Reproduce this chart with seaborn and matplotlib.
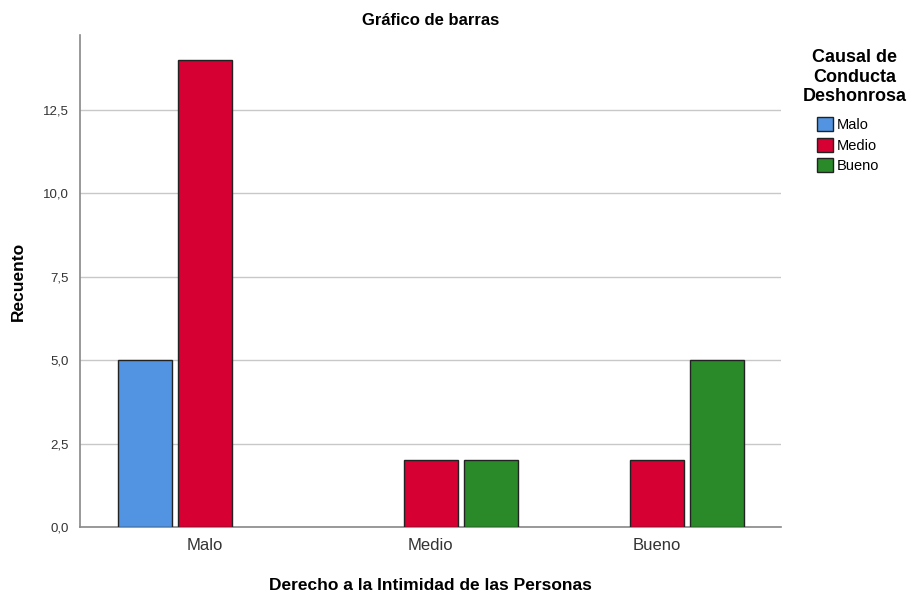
import pandas as pd
import matplotlib.pyplot as plt
import seaborn as sns
from matplotlib.ticker import FuncFormatter
from matplotlib.patches import Patch

# ================== DATA ==================
groups = ['Malo', 'Medio', 'Bueno']          # Derecho a la Intimidad
hue_levels = ['Malo', 'Medio', 'Bueno']      # Causal de Conducta Deshonrosa
count_malo = [5, 0, 0]
count_medio = [14, 2, 2]
count_bueno = [0, 2, 5]
colors = ['#5294E2', '#D70032', '#2A8A2A']

rows = []
for lvl, vals in zip(hue_levels, [count_malo, count_medio, count_bueno]):
    for g, v in zip(groups, vals):
        if v > 0:
            rows.append({'grupo': g, 'causal': lvl, 'n': v})
df = pd.DataFrame(rows)

sns.set_style('white')
plt.rcParams['font.family'] = ['Liberation Sans', 'DejaVu Sans']
plt.rcParams['text.color'] = 'black'

fig = plt.figure(figsize=(9.08, 5.99), dpi=100)
ax = fig.add_axes([0.0881, 0.1202, 0.772, 0.8214])

sns.barplot(data=df, x='grupo', y='n', hue='causal', order=groups, hue_order=hue_levels,
            palette=colors, saturation=1, width=0.8, gap=0.1, edgecolor='#222222', linewidth=1,
            ax=ax, legend=False, zorder=3)

ax.set_xlim(-0.553, 2.549)
ax.set_ylim(0, 14.75)
ax.set_yticks([0, 2.5, 5, 7.5, 10, 12.5])
ax.yaxis.set_major_formatter(FuncFormatter(lambda v, p: f"{v:.1f}".replace('.', ',')))
ax.grid(axis='y', color='#c8c8c8', linewidth=1, zorder=0)
ax.set_axisbelow(True)
for s in ['top', 'right']:
    ax.spines[s].set_visible(False)
for s in ['left', 'bottom']:
    ax.spines[s].set_color('#888888')
    ax.spines[s].set_linewidth(1.2)
ax.tick_params(axis='y', length=0, labelsize=9.5, labelcolor='#333333', pad=8)
ax.tick_params(axis='x', length=0, labelsize=12, labelcolor='#333333', pad=8)

ax.set_xlabel('Derecho a la Intimidad de las Personas', fontsize=12.5, fontweight='bold',
              labelpad=18, color='black')
ax.set_ylabel('Recuento', fontsize=12.5, fontweight='bold', labelpad=12, color='black')
ax.set_title('Gráfico de barras', fontsize=12, fontweight='bold', pad=7, color='black')

# legend title and entries, SPSS style
fig.text(0.941, 0.918, 'Causal de\nConducta\nDeshonrosa', ha='center', va='top',
         fontsize=13, fontweight='bold', linespacing=1.2)
handles = [Patch(facecolor=c, edgecolor='#222222', label=l) for c, l in zip(colors, hue_levels)]
fig.legend(handles=handles, loc='upper left', bbox_to_anchor=(0.9, 0.805), frameon=False,
           fontsize=10.5, handlelength=1.1, handleheight=1.1, handletextpad=0.25,
           labelspacing=0.4, borderpad=0, borderaxespad=0)

plt.savefig('out.png', dpi=100)
plt.close()
